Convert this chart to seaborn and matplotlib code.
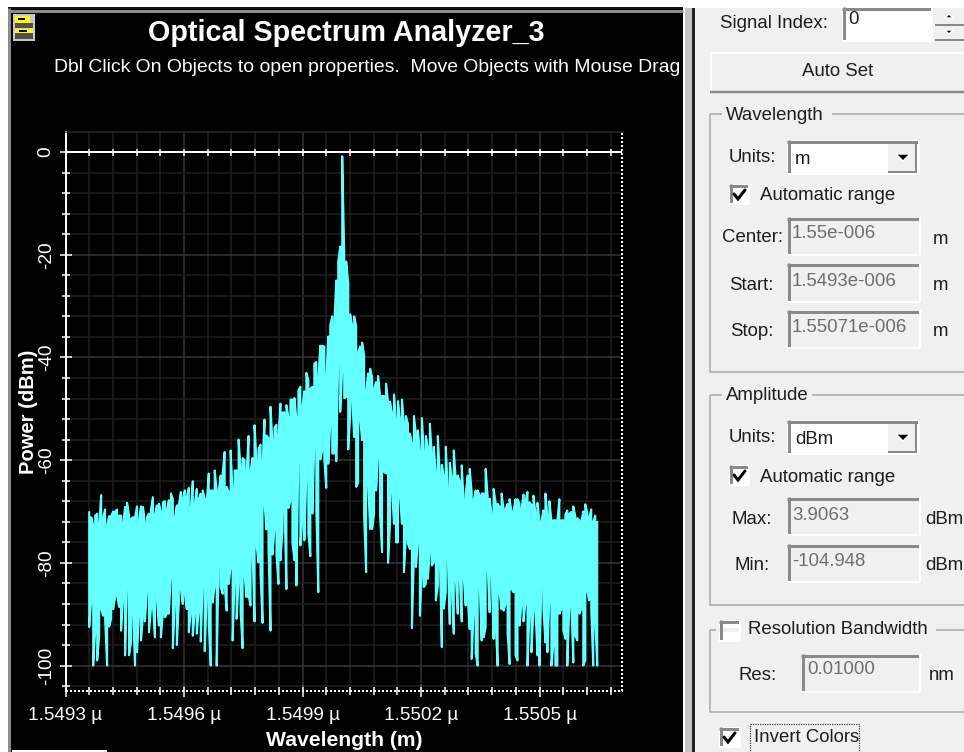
import numpy as np
import pandas as pd
import matplotlib
matplotlib.use('Agg')
import matplotlib.pyplot as plt
import seaborn as sns
from matplotlib.patches import Rectangle, Polygon
from matplotlib.ticker import AutoMinorLocator

# Spectrum, one column every 2 px, in dBm
upper_left = [-70.1, -71.1, -72.7, -70.8, -70.4, -72.7, -66.8, -71.1, -69.6, -72.7, -70.9, -70.9, -70.0, -70.0, -69.6, -70.8,
              -70.8, -72.4, -69.1, -68.3, -70.8, -71.4, -71.1, -71.1, -69.0, -71.7, -69.0, -69.1, -72.4, -71.1, -70.4, -69.6,
              -67.2, -70.6, -68.8, -68.5, -70.0, -68.2, -68.0, -69.6, -67.8, -66.5, -67.6, -71.3, -68.8, -68.8, -66.2, -67.5,
              -65.9, -67.2, -65.4, -69.5, -64.1, -68.5, -65.6, -67.5, -66.5, -65.9, -67.5, -68.2, -62.6, -65.9, -65.9]
upper_rise = [-62.0, -65.9, -65.9, -63.0, -62.6, -58.4, -65.2, -66.2, -58.1, -66.2, -62.0, -62.0, -56.0, -61.7, -59.6, -60.0,
              -62.6, -55.3, -62.0, -59.6, -53.2, -60.4, -57.8, -57.0, -60.7, -52.1, -55.2, -55.7, -49.6, -56.6, -53.7, -53.1,
              -55.5, -49.0, -50.7, -50.7, -49.3, -51.6, -48.2, -48.2, -47.9, -51.9, -46.4, -45.7, -49.6, -46.6, -43.0, -44.4,
              -46.1, -45.7, -41.2, -40.9, -44.2, -37.7, -37.7, -37.9, -44.0]
upper_peak = [-35.9, -33.7, -32.0, -33.8, -25.0, -21.3, -18.4, -0.8, -19.5, -21.3, -25.4, -31.6, -33.8, -32.0, -33.9,
              -39.0, -37.9, -37.1]
upper_fall = [-39.6, -46.6, -43.1, -42.2, -43.8, -46.1, -44.8, -43.6, -47.5, -47.5, -47.5, -45.1, -48.6, -48.6, -50.9, -47.2,
              -52.4, -48.5, -52.2, -48.2, -53.1, -51.4, -52.9, -54.8, -56.8, -51.4, -54.8, -54.2, -58.4, -51.8, -58.7, -55.3,
              -57.6, -52.9, -59.0, -57.4, -62.6, -55.3, -63.0, -60.9, -63.0, -57.4, -65.9, -60.5, -63.6, -58.1, -63.6, -63.0,
              -64.1, -61.0, -68.3, -66.5, -63.0]
upper_right = [-61.7, -66.2, -67.8, -65.9, -65.9, -66.9, -66.5, -66.5, -61.7, -66.9, -67.5, -70.6, -65.6, -68.2, -68.5, -69.1,
               -66.5, -69.5, -69.5, -68.5, -67.6, -70.0, -70.0, -67.6, -67.6, -68.5, -69.6, -66.7, -67.8, -66.2, -68.2, -68.7,
               -66.9, -70.4, -68.3, -72.0, -72.0, -69.8, -66.5, -70.9, -68.0, -71.7, -71.7, -71.7, -71.7, -67.6, -71.7, -71.7,
               -70.6, -69.8, -70.4, -70.1, -69.0, -70.9, -71.3, -71.7, -72.0, -70.0, -68.6, -70.2, -71.1, -69.6, -72.0, -70.8, -72.0]

lower_left = [-92.5, -87.3, -100.0, -93.2, -99.0, -94.2, -89.0, -90.3, -91.2, -100.0, -92.4, -90.9, -89.0, -86.7, -86.2, -88.6,
              -93.2, -86.9, -98.0, -84.4, -98.0, -95.5, -89.4, -100.0, -97.4, -89.9, -95.1, -90.3, -91.4, -85.1, -93.5, -89.0,
              -88.3, -94.5, -86.9, -92.2, -94.5, -89.6, -90.6, -89.9, -89.9, -82.3, -96.6, -87.7, -96.0, -87.7, -85.1, -88.0,
              -85.8, -89.0, -93.5, -89.6, -94.2, -89.6, -93.8, -89.3, -95.3, -84.1, -97.2, -86.5, -91.9, -100.0, -87.7]
lower_rise = [-84.4, -100.0, -79.9, -84.7, -86.0, -84.4, -89.3, -84.1, -80.8, -95.1, -83.0, -90.9, -83.4, -89.6, -96.6, -82.6,
              -86.7, -86.4, -88.3, -78.0, -91.4, -76.7, -79.9, -82.3, -91.7, -68.6, -73.5, -77.1, -93.2, -78.4, -73.2, -78.4,
              -84.1, -79.5, -73.9, -68.6, -85.1, -69.3, -68.0, -76.0, -79.5, -84.4, -59.2, -76.6, -71.4, -75.6, -63.0, -74.3,
              -78.7, -70.4, -57.1, -69.6, -85.7, -59.8, -58.1, -59.8, -65.4, -60.7, -52.9, -58.7, -58.7, -60.2, -39.9, -50.6, -42.2]
lower_fall = [-47.9, -47.7, -57.9, -51.1, -47.9, -55.5, -65.2, -64.4, -52.1, -56.1, -70.8, -81.8, -64.4, -73.4, -73.4, -70.4,
              -65.9, -59.2, -70.8, -77.9, -62.3, -62.6, -80.0, -72.4, -65.9, -72.4, -76.0, -76.0, -66.9, -72.4, -81.8, -74.7,
              -76.3, -77.3, -92.7, -78.4, -80.8, -76.0, -90.3, -81.8, -84.7, -84.1, -83.1, -77.6, -80.5, -79.9, -87.3, -84.4,
              -78.9, -96.4, -88.9, -85.7, -78.6, -91.9, -85.1, -93.8, -82.8, -89.9, -82.8, -91.4, -82.8, -88.3, -86.7]
lower_right = [-92.9, -98.7, -89.3, -97.7, -100.0, -84.1, -95.1, -94.5, -92.5, -80.8, -89.6, -81.2, -94.8, -91.6, -100.0, -85.8,
               -89.0, -89.3, -88.0, -93.5, -99.7, -85.1, -85.7, -98.0, -99.0, -92.2, -88.0, -91.4, -87.7, -100.0, -89.6, -97.4,
               -89.0, -89.0, -98.0, -100.0, -84.1, -89.0, -95.5, -97.4, -86.9, -100.0, -96.1, -100.0, -100.0, -89.9, -89.0, -93.2,
               -94.8, -100.0, -88.3, -88.0, -99.4, -94.2, -95.1, -89.9, -89.0, -100.0, -99.0, -85.5, -87.3, -89.3, -100.0, -91.4, -100.0]

wl_first, wl_last = 1.54936, 1.550646  # first and last sample, in um
x_ticks = [1.5493, 1.5496, 1.5499, 1.5502, 1.5505]
x_labels = ['1.5493 µ', '1.5496 µ', '1.5499 µ', '1.5502 µ', '1.5505 µ']
y_ticks = [0, -20, -40, -60, -80, -100]
y_labels = ['0', '-20', '-40', '-60', '-80', '-100']
x_range = (1.5493, 1.55071)
y_range = (-104.948, 3.9063)

upper = np.array(upper_left + upper_rise + upper_peak + upper_fall + upper_right)
lower = np.array(lower_left + lower_rise + lower_fall + lower_right)
wavelength = np.linspace(wl_first, wl_last, len(upper))

# Trace runs up and down every column so the band looks filled
xs, ys = [], []
for i in range(len(upper)):
    xs += [wavelength[i], wavelength[i]]
    ys += [upper[i], lower[i]] if i % 2 == 0 else [lower[i], upper[i]]
df = pd.DataFrame({'Wavelength': xs, 'Power': ys})

sns.set_style('white')
plt.rcParams['font.family'] = ['Liberation Sans', 'DejaVu Sans']
plt.rcParams['path.simplify'] = False  # keep every column of the trace

W, H = 964, 752
PX = 72 / 100  # one pixel in points
panel_color = '#f0f0f0'
trace_color = '#64ffff'
disabled_color = '#6e6e6e'
text_color = '#1c1c1c'

fig = plt.figure(figsize=(W / 100, H / 100), dpi=100, facecolor='white')

# Background axes in pixel coordinates for the window around the plot
bg = fig.add_axes([0, 0, 1, 1], zorder=0)
bg.set_xlim(0, W)
bg.set_ylim(H, 0)
bg.axis('off')


def box(x0, y0, x1, y1, color, edge='none', lw=0, **kw):
    bg.add_patch(Rectangle((x0, y0), x1 - x0, y1 - y0, facecolor=color, edgecolor=edge, linewidth=lw * PX, **kw))


def hline(x0, x1, y, color, lw=1.5):
    bg.plot([x0, x1], [y, y], color=color, lw=lw * PX, solid_capstyle='butt')


def vline(x, y0, y1, color, lw=1.5):
    bg.plot([x, x], [y0, y1], color=color, lw=lw * PX, solid_capstyle='butt')


def label(x, y, s, color=text_color, size=13.4, ha='left', **kw):
    bg.text(x, y + 2, s, color=color, fontsize=size, ha=ha, va='center', **kw)


def sunken(x0, y0, x1, y1, fill):
    box(x0, y0, x1, y1, fill)
    hline(x0, x1, y0 + 1.5, '#8a8a8a', 3)
    vline(x0 + 1.5, y0, y1, '#8a8a8a', 3)
    hline(x0, x1, y1, '#ffffff', 2)
    vline(x1, y0, y1, '#ffffff', 2)


def group(x0, y0, x1, y1, gap_x0, gap_x1):
    bg.add_patch(Rectangle((x0, y0), x1 - x0, y1 - y0, facecolor='none', edgecolor='#a8a8a8', linewidth=1.5 * PX))
    hline(gap_x0, gap_x1, y0, panel_color, 4)


def combo(x0, y0, x1, y1, s):
    sunken(x0, y0, x1, y1, 'white')
    box(x1 - 31, y0 + 3, x1 - 2, y1 - 2, panel_color)
    hline(x1 - 31, x1 - 2, y1 - 2, '#8a8a8a', 2)
    vline(x1 - 3, y0 + 3, y1 - 2, '#8a8a8a', 2)
    cx, cy = x1 - 16, (y0 + y1) / 2
    bg.add_patch(Polygon([(cx - 7, cy - 3), (cx + 7, cy - 3), (cx, cy + 4)], facecolor='black'))
    label(x0 + 8, (y0 + y1) / 2, s)


def checkbox(x0, y0, x1, y1, checked=True):
    sunken(x0, y0, x1, y1, 'white')
    if checked:
        bg.plot([x0 + 5, x0 + 9, x0 + 16], [y0 + 10, y0 + 15, y0 + 6], color='black', lw=3 * PX, solid_joinstyle='miter')


# Black scope window
box(8, 8, 683, H, 'black')
hline(8, 683, 7.5, '#111111', 2)
hline(8, 683, 10.5, '#8c8c8c', 3)
vline(8.5, 8, H, '#8c8c8c', 3)
box(12, 750, 107, H, 'white')

# Drawer icon in the corner
box(13, 14, 35, 41, '#c8c8c8')
box(15, 23, 33, 28, '#505050')
box(15, 33, 33, 39, '#505050')
box(15, 16, 30, 23, '#ffff00')
box(15, 29, 33, 33, '#ffff00')
hline(18, 25, 19, 'black', 2)
hline(19, 27, 31, 'black', 2)

label(346, 31, 'Optical Spectrum Analyzer_3', color='white', size=20.7, ha='center', fontweight='bold')
label(367.5, 65, 'Dbl Click On Objects to open properties.  Move Objects with Mouse Drag', color='white', size=13.95, ha='center')

# Separator and control panel
box(685, 8, 692, H, '#c4c4c4')
box(692, 8, 695, H, '#202020')
box(695, 8, W, H, panel_color)

label(720, 22, 'Signal Index:')
sunken(842, 7, 932, 41, 'white')
label(848, 18, '0')
box(935, 8, W, 25, panel_color)
hline(935, W, 25, '#8a8a8a', 2)
box(935, 27, W, 40, panel_color)
hline(935, W, 40, '#8a8a8a', 2)
bg.add_patch(Polygon([(945, 18), (953, 18), (949, 14)], facecolor='black'))
bg.add_patch(Polygon([(945, 30), (953, 30), (949, 34)], facecolor='black'))

box(710, 52, W, 92, panel_color)
hline(710, W, 53, '#ffffff', 2)
vline(711, 52, 92, '#ffffff', 2)
hline(710, W, 92, '#8a8a8a', 2.5)
label(838, 70, 'Auto Set', ha='center')

group(710, 114, W + 2, 372, 722, 832)
label(726, 113, 'Wavelength')
label(729, 156, 'Units:')
combo(787, 140, 919, 174, 'm')
checkbox(729, 184, 749, 204)
label(760, 194, 'Automatic range')
label(783, 236, 'Center:', ha='right')
sunken(787, 217, 920, 255, panel_color)
label(792, 231, '1.55e-006', color=disabled_color)
label(941, 237, 'm', ha='center')
label(773, 283, 'Start:', ha='right')
sunken(787, 263, 920, 302, panel_color)
label(792, 279, '1.5493e-006', color=disabled_color)
label(941, 284, 'm', ha='center')
label(773, 329, 'Stop:', ha='right')
sunken(787, 310, 920, 348, panel_color)
label(792, 325, '1.55071e-006', color=disabled_color)
label(941, 330, 'm', ha='center')

group(710, 395, W + 2, 605, 722, 812)
label(726, 394, 'Amplitude')
label(729, 436, 'Units:')
combo(787, 420, 919, 454, 'dBm')
checkbox(729, 465, 749, 485)
label(760, 475, 'Automatic range')
label(772, 517, 'Max:', ha='right')
sunken(787, 497, 920, 535, panel_color)
label(792, 513, '3.9063', color=disabled_color)
label(925, 517, 'dBm')
label(770, 563, 'Min:', ha='right')
sunken(787, 544, 920, 582, panel_color)
label(792, 559, '-104.948', color=disabled_color)
label(925, 563, 'dBm')

group(710, 630, W + 2, 712, 716, 936)
checkbox(719, 620, 740, 641, checked=False)
label(748, 628, 'Resolution Bandwidth')
label(777, 674, 'Res:', ha='right')
sunken(801, 654, 920, 692, panel_color)
label(807, 668, '0.01000', color=disabled_color)
label(942, 674, 'nm', ha='center')

checkbox(719, 727, 740, 747)
label(754, 736, 'Invert Colors')
bg.add_patch(Rectangle((750, 724), 109, 30, facecolor='none', edgecolor='#333333', linewidth=1.2 * PX, linestyle=(0, (1, 1))))

# The plot itself
ax = fig.add_axes([65.5 / W, 1 - 691 / H, 557 / W, 559 / H], zorder=1, facecolor='black')
sns.lineplot(data=df, x='Wavelength', y='Power', sort=False, estimator=None, errorbar=None, color=trace_color,
             linewidth=2.1 * PX, ax=ax, zorder=3, legend=False)
ax.set_xlim(*x_range)
ax.set_ylim(*y_range)
ax.set_xticks(x_ticks, x_labels)
ax.set_yticks(y_ticks, y_labels, rotation=90, va='center')
ax.xaxis.set_minor_locator(AutoMinorLocator(5))
ax.yaxis.set_minor_locator(AutoMinorLocator(5))
ax.set_axisbelow(True)
ax.grid(which='major', color='#363636', lw=1.5 * PX)
ax.grid(which='minor', color='#1f1f1f', lw=1.5 * PX)
ax.tick_params(which='major', direction='inout', length=12 * PX, width=1.5 * PX, color='white',
               labelcolor='white', labelsize=13.7, pad=6, left=True, bottom=True)
ax.tick_params(axis='y', which='major', pad=3.5)
ax.tick_params(axis='x', which='major', pad=7.5)
ax.tick_params(which='minor', direction='inout', length=8 * PX, width=1.5 * PX, color='white', left=True, bottom=True)

# 0 dBm reference line with its small ticks
ax.axhline(0, color='white', lw=2 * PX, zorder=4)
zero_ticks = np.concatenate([ax.xaxis.get_minorticklocs(), x_ticks[1:]])
ax.plot(zero_ticks, np.zeros(len(zero_ticks)), ls='none', marker='|', ms=7 * PX, mew=1.5 * PX, color='white', zorder=4)

ax.set_xlabel('Wavelength (m)', color='white', fontsize=15.2, fontweight='bold', labelpad=5)
ax.set_ylabel('Power (dBm)', color='white', fontsize=14.5, fontweight='bold', labelpad=0)

ax.spines['left'].set(color='white', linewidth=2 * PX)
ax.spines['bottom'].set(color='white', linewidth=2 * PX, linestyle=(0, (1, 1)), capstyle='butt')
ax.spines['right'].set(color='white', linewidth=2 * PX, linestyle=(0, (1, 1)), capstyle='butt')
ax.spines['top'].set(color='#2a2a2a', linewidth=1.5 * PX)

plt.savefig('out.png', dpi=100)
plt.close()
